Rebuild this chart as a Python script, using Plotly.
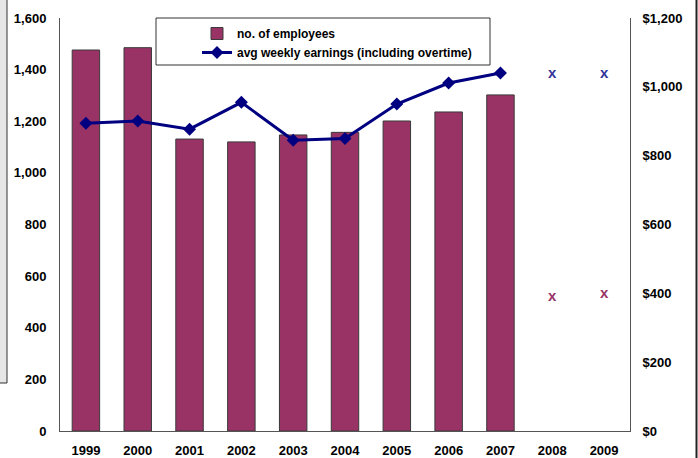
import plotly.graph_objects as go

# ---- data ----
years = ["1999", "2000", "2001", "2002", "2003", "2004", "2005", "2006", "2007", "2008", "2009"]
bar_years = years[:9]
employees = [1476, 1485, 1131, 1120, 1147, 1157, 1201, 1236, 1302]
earnings = [894, 901, 877, 955, 845, 850, 950, 1011, 1040]
proj_years = ["2008", "2009"]
proj_earnings = [1037, 1037]
proj_employees = [519, 530]

left_ticks = list(range(0, 1601, 200))
right_ticks = list(range(0, 1201, 200))
right_labels = [f"${v:,}" for v in right_ticks]

FONT = "Liberation Sans, Arial, sans-serif"
BAR_COLOR = "#993366"
LINE_COLOR = "#000080"

W, H = 698, 458
ML, MR, MT, MB = 60, 68, 18, 27
PW = W - ML - MR
PH = H - MT - MB

fig = go.Figure()

fig.add_trace(go.Bar(
    x=bar_years, y=employees, name="no. of employees",
    marker=dict(color=BAR_COLOR, line=dict(color="#3a3a3a", width=1)),
    width=0.53,
))

fig.add_trace(go.Scatter(
    x=bar_years, y=earnings, name="avg weekly earnings (including overtime)",
    yaxis="y2", mode="lines+markers",
    line=dict(color=LINE_COLOR, width=3),
    marker=dict(symbol="diamond", size=10, color=LINE_COLOR),
))

# projected values shown as "x" glyphs
fig.add_trace(go.Scatter(
    x=proj_years, y=proj_earnings, yaxis="y2", mode="text", text=["x", "x"],
    textfont=dict(family=FONT, size=15, color="#333399", weight="bold"),
    showlegend=False, textposition="middle center",
))
fig.add_trace(go.Scatter(
    x=proj_years, y=proj_employees, mode="text", text=["x", "x"],
    textfont=dict(family=FONT, size=15, color=BAR_COLOR, weight="bold"),
    showlegend=False, textposition="middle center",
))

tickfont = dict(family=FONT, size=13, color="#000000", weight="bold")

fig.update_layout(
    template="none",
    width=W, height=H,
    margin=dict(l=ML, r=MR, t=MT, b=MB, pad=0, autoexpand=False),
    paper_bgcolor="white", plot_bgcolor="white",
    bargap=0.47,
    showlegend=True,
    legend=dict(
        x=(197 - ML) / PW, y=1 - (19 - MT) / PH, xanchor="left", yanchor="top",
        bgcolor="rgba(0,0,0,0)", borderwidth=0,
        font=dict(family=FONT, size=12, color="#000000", weight="bold"),
        tracegroupgap=0, itemwidth=30,
    ),
    xaxis=dict(
        type="category", categoryorder="array", categoryarray=years,
        range=[-0.5, len(years) - 0.5], automargin=False,
        showline=True, linecolor="#555555", linewidth=1,
        showgrid=False, ticks="", tickfont=tickfont, ticklabelstandoff=7,
        zeroline=False,
    ),
    yaxis=dict(
        range=[0, 1600], tickvals=left_ticks, tickformat=",", automargin=False,
        showline=True, linecolor="#555555", linewidth=1,
        showgrid=False, ticks="", tickfont=tickfont, ticklabelstandoff=10,
        zeroline=False,
    ),
    yaxis2=dict(
        range=[0, 1200], tickvals=right_ticks, ticktext=right_labels,
        overlaying="y", side="right", automargin=False,
        showline=True, linecolor="#555555", linewidth=1,
        showgrid=False, ticks="", tickfont=tickfont, ticklabelstandoff=9,
        zeroline=False,
    ),
    shapes=[
        # legend frame
        dict(type="rect", xref="paper", yref="paper",
             x0=(156 - ML) / PW, x1=(490 - ML) / PW,
             y0=1 - (65 - MT) / PH, y1=1 - (18 - MT) / PH,
             line=dict(color="#333333", width=1), fillcolor="white", layer="above"),
        # side panel at the left edge
        dict(type="rect", xref="paper", yref="paper",
             x0=(-2 - ML) / PW, x1=(7 - ML) / PW,
             y0=1 - (383 - MT) / PH, y1=1 - (-2 - MT) / PH,
             line=dict(color="#333333", width=1), fillcolor="#e6e6e6"),
        # frame edge at the right
        dict(type="line", xref="paper", yref="paper",
             x0=(696.5 - ML) / PW, x1=(696.5 - ML) / PW,
             y0=-MB / PH, y1=1 + MT / PH,
             line=dict(color="#222222", width=2)),
    ],
)

fig.write_html("out.html")
